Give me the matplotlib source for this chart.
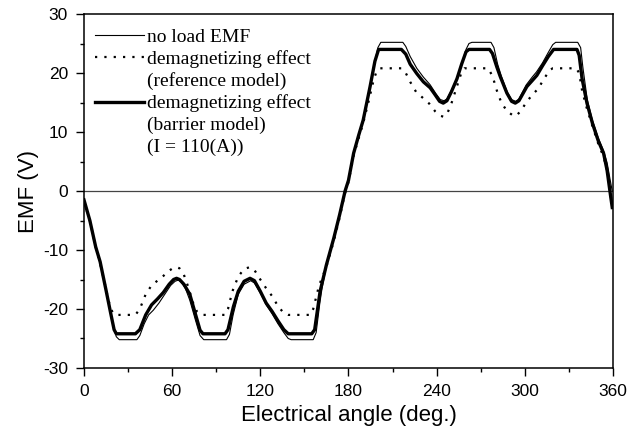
import matplotlib
matplotlib.use("Agg")
import matplotlib.pyplot as plt
from matplotlib.lines import Line2D
import numpy as np

plt.rcParams["axes.unicode_minus"] = False

# no-load EMF (thin)
noload_x = [0, 4, 8, 11, 15, 18, 20, 22, 24, 36, 38, 41, 44, 47.2, 51, 55, 59, 62, 64.2, 66, 69, 72, 76, 79, 81.5,
            97, 99, 101.5, 105, 109, 113.5, 116, 120, 124, 128, 132, 136, 139, 141, 156, 158, 160.5, 162, 165, 170, 174,
            177.7, 180, 183.5, 187, 190, 194.7, 198, 200, 202, 217, 219, 222, 226.5, 231, 235.6, 239.5, 242.5, 245,
            247, 250, 253.8, 257, 260, 262, 264, 277, 279, 281.5, 284, 288, 291, 293.8, 296, 301, 305, 308, 312, 316,
            319, 321, 336, 338, 339.5, 342.5, 346, 350, 353.6, 356, 358, 359.5]
noload_y = [-1.8, -5, -9.5, -12, -16.8, -20.3, -23, -24.7, -25.2, -25.2, -24.5, -22.5, -21, -20.2, -19, -17.5, -16,
            -15.3, -15.1, -15.4, -16.5, -18.5, -22, -24.5, -25.2,
            -25.2, -24.3, -21, -17.5, -15.8, -15.2, -15.6, -17.3, -19.3, -20.8, -22.5, -24, -25, -25.2, -25.2, -24,
            -19, -16.5, -12.7, -8.2, -4.2,
            -0.2, 1.6, 6.2, 9.3, 11.8, 17.5, 22, 24.3, 25.2, 25.2, 24.5, 22.8, 20.8, 19.3, 18, 16.5, 15.5, 15.3,
            15.6, 17, 19.2, 21.5, 24, 25, 25.2, 25.2, 24.3, 21.5, 19.5, 16.8, 15.5, 15.2, 15.6, 18, 19.3, 20.2, 21.7,
            23.5, 24.8, 25.2, 25.2, 24.3, 21, 15.5, 12, 9, 6.8, 4.8, 2, 0]

# demagnetizing effect, reference model (dotted)
ref_x = [0, 4, 8, 11, 14, 16, 18, 20, 22, 35, 38, 42, 46, 50, 54, 58, 61, 63, 65, 68, 71, 74, 77, 80,
         96, 98, 101, 105, 109, 113, 116, 120, 124, 128, 132, 136, 139, 154, 156, 158, 160, 165, 170, 174,
         177.5, 180, 183.5, 187, 190, 194, 197, 199, 201.5, 216, 219, 222, 226, 231, 235, 239, 242, 244.5,
         247, 250, 253.5, 256.5, 259, 275, 278, 281, 284, 288, 292, 294, 297, 301, 305, 309, 313, 317, 319,
         335, 337, 339, 342, 346, 350, 353.6, 356, 358, 359.5]
ref_y = [-1.8, -5, -9.5, -12.3, -15.5, -17.8, -19.8, -20.8, -21, -21, -20, -17.5, -16, -15.2, -14.4, -13.5, -13,
         -12.9, -13.1, -14.2, -16.3, -18.8, -20.5, -21,
         -21, -20, -17, -14.5, -13.2, -12.9, -13.4, -15, -16.5, -17.8, -19.5, -20.7, -21, -21, -20, -18, -16,
         -12.8, -8.5, -4.5,
         -0.5, 1.5, 6, 9, 11.5, 15.5, 18.7, 20.2, 20.8, 20.8, 20, 18.5, 16.8, 15.7, 14.8, 13.5, 12.8, 12.6,
         13, 14.8, 17.5, 19.8, 20.8, 20.8, 19.5, 17, 15, 13.5, 12.8, 12.7, 13.5, 15, 16.3, 17.3, 19, 20.5, 20.8,
         20.8, 20, 17, 14.2, 11, 8, 5.8, 3.5, 0, -2.5]

# demagnetizing effect, barrier model (thick)
bar_x = [0, 4, 8, 11, 15, 18, 20.5, 22, 35, 38, 42, 46, 50, 54, 58, 61, 63, 65, 68, 72, 76, 79, 81,
         96, 98, 101.7, 105, 109, 113, 116, 120, 124, 128, 132, 136, 139, 155, 157, 160.7, 165, 170, 174,
         177.7, 180, 183.5, 187, 190, 194.7, 198, 200.5, 216, 219, 222, 226.5, 231, 235.6, 239, 242, 244.5,
         247, 250, 253.8, 257, 260, 262, 276, 278, 281, 283.3, 287.8, 291, 293.5, 296, 301.4, 305, 308.2, 312,
         316, 319.6, 335.5, 337, 339, 342.3, 346, 350, 353.6, 356, 358.2, 359.5]
bar_y = [-1.5, -5, -9.5, -12, -16.8, -20.5, -23.5, -24.2, -24.2, -23.5, -21, -19.3, -18.3, -17.2, -15.8, -15,
         -14.8, -15, -15.8, -17.5, -21, -23.6, -24.2,
         -24.2, -23.5, -19.6, -17, -15.3, -14.8, -15.2, -17, -19, -20.4, -22, -23.5, -24.2, -24.2, -23.5, -17,
         -12.5, -8, -4,
         0, 1.8, 6.4, 9.5, 12, 17.7, 22, 24, 24, 23.2, 21.5, 19.9, 18.5, 17.5, 16.3, 15.2, 14.9,
         15.3, 16.8, 19, 21.5, 23.6, 24, 24, 23.3, 21, 19.4, 16.6, 15.2, 14.9, 15.3, 17.7, 18.7, 19.6, 21.2,
         22.8, 24, 24, 23, 19, 14.9, 11.5, 8.5, 6.4, 3.5, -0.5, -2.8]

x_ticks = [0, 60, 120, 180, 240, 300, 360]
y_ticks = [-30, -20, -10, 0, 10, 20, 30]

fig = plt.figure(figsize=(6.43, 4.30), dpi=100)
ax = fig.add_axes([0.1306, 0.1442, 0.8227, 0.8232])

ax.axhline(0, color="#444444", lw=0.9, zorder=1)
l1, = ax.plot(noload_x, noload_y, color="black", lw=0.8, zorder=3)
l2, = ax.plot(ref_x, ref_y, color="black", lw=1.6, linestyle=(0, (1, 3.2)), zorder=2)
l3, = ax.plot(bar_x, bar_y, color="black", lw=2.4, zorder=4)

ax.set_xlim(0, 360)
ax.set_ylim(-30, 30)
ax.set_xticks(x_ticks)
ax.set_yticks(y_ticks)
ax.set_xticks([30, 90, 150, 210, 270, 330], minor=True)
ax.set_yticks([-25, -15, -5, 5, 15, 25], minor=True)
ax.tick_params(which="major", direction="out", length=6, width=1, labelsize=12.5, pad=5.5)
ax.tick_params(which="minor", direction="out", length=3, width=1)
for lab in ax.get_xticklabels() + ax.get_yticklabels():
    lab.set_family("Liberation Sans")
for s in ax.spines.values():
    s.set_linewidth(1.1)

ax.set_xlabel("Electrical angle (deg.)", family="Liberation Sans", fontsize=16, labelpad=4)
ax.set_ylabel("EMF (V)", family="Liberation Sans", fontsize=16, labelpad=3)

blank = Line2D([], [], color="none")
handles = [l1, l2, blank, l3, blank, blank]
labels = ["no load EMF", "demagnetizing effect", "(reference model)",
          "demagnetizing effect", "(barrier model)", "(I = 110(A))"]
leg = ax.legend(handles, labels, loc="upper left", bbox_to_anchor=(0.0208, 0.960), frameon=False,
                prop={"family": "Liberation Serif", "size": 14}, handlelength=2.5, handletextpad=0.2,
                labelspacing=0.22, borderaxespad=0, borderpad=0)

fig.savefig("out.png", dpi=100)
